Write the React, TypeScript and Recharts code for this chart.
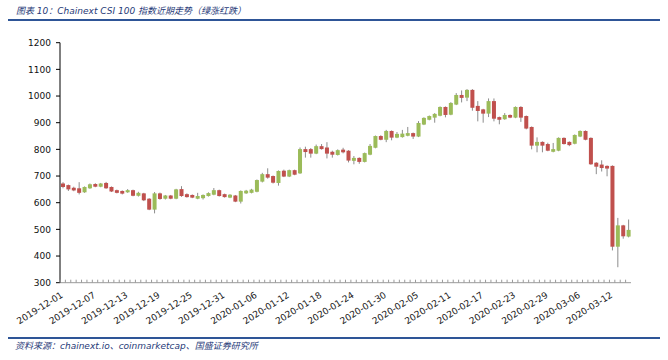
import React from "react";
import { ComposedChart, Bar, XAxis, YAxis } from "recharts";

// daily candles, 2019-12-01 .. 2020-03-15
const dates = [
  "2019-12-01", "2019-12-02", "2019-12-03", "2019-12-04", "2019-12-05", "2019-12-06", "2019-12-07", "2019-12-08",
  "2019-12-09", "2019-12-10", "2019-12-11", "2019-12-12", "2019-12-13", "2019-12-14", "2019-12-15", "2019-12-16",
  "2019-12-17", "2019-12-18", "2019-12-19", "2019-12-20", "2019-12-21", "2019-12-22", "2019-12-23", "2019-12-24",
  "2019-12-25", "2019-12-26", "2019-12-27", "2019-12-28", "2019-12-29", "2019-12-30", "2019-12-31",
  "2020-01-01", "2020-01-02", "2020-01-03", "2020-01-04", "2020-01-05", "2020-01-06", "2020-01-07", "2020-01-08",
  "2020-01-09", "2020-01-10", "2020-01-11", "2020-01-12", "2020-01-13", "2020-01-14", "2020-01-15", "2020-01-16",
  "2020-01-17", "2020-01-18", "2020-01-19", "2020-01-20", "2020-01-21", "2020-01-22", "2020-01-23", "2020-01-24",
  "2020-01-25", "2020-01-26", "2020-01-27", "2020-01-28", "2020-01-29", "2020-01-30", "2020-01-31",
  "2020-02-01", "2020-02-02", "2020-02-03", "2020-02-04", "2020-02-05", "2020-02-06", "2020-02-07", "2020-02-08",
  "2020-02-09", "2020-02-10", "2020-02-11", "2020-02-12", "2020-02-13", "2020-02-14", "2020-02-15", "2020-02-16",
  "2020-02-17", "2020-02-18", "2020-02-19", "2020-02-20", "2020-02-21", "2020-02-22", "2020-02-23", "2020-02-24",
  "2020-02-25", "2020-02-26", "2020-02-27", "2020-02-28", "2020-02-29",
  "2020-03-01", "2020-03-02", "2020-03-03", "2020-03-04", "2020-03-05", "2020-03-06", "2020-03-07", "2020-03-08",
  "2020-03-09", "2020-03-10", "2020-03-11", "2020-03-12", "2020-03-13", "2020-03-14", "2020-03-15",
];

const opens = [
  672, 666, 656, 654, 639, 654, 670, 660, 674, 659, 647, 644, 639, 647, 626, 635, 615, 574, 635, 615,
  627, 615, 651, 632, 629, 615, 617, 625, 630, 647, 632, 619, 627, 604, 635, 637, 641, 679, 707, 700,
  674, 720, 698, 722, 710, 801, 801, 784, 812, 807, 791, 779, 799, 795, 757, 768, 753, 780, 806, 850,
  836, 869, 844, 846, 851, 861, 848, 893, 911, 919, 926, 959, 930, 968, 1004, 994, 1023, 963, 950, 934,
  981, 921, 913, 929, 919, 959, 925, 884, 814, 828, 820, 791, 795, 843, 828, 821, 848, 869, 843, 750,
  743, 738, 738, 435, 515, 473,
];
const closes = [
  659, 650, 646, 637, 659, 669, 660, 672, 654, 642, 637, 634, 647, 626, 637, 609, 574, 635, 614, 627,
  615, 650, 625, 621, 619, 625, 629, 636, 647, 625, 621, 630, 604, 644, 645, 649, 685, 707, 694, 675,
  719, 698, 722, 705, 801, 790, 784, 812, 801, 784, 780, 797, 789, 758, 768, 753, 786, 813, 850, 836,
  869, 844, 858, 859, 861, 848, 899, 918, 925, 933, 959, 929, 974, 1004, 993, 1023, 956, 944, 934, 981,
  915, 911, 929, 919, 959, 919, 878, 814, 828, 814, 795, 801, 843, 820, 816, 854, 869, 836, 744, 735,
  730, 728, 435, 515, 474, 498,
];
const highs = [
  677, 668, 660, 677, 661, 672, 673, 674, 678, 661, 649, 646, 651, 649, 641, 637, 617, 640, 638, 629,
  629, 652, 662, 635, 631, 637, 631, 639, 655, 649, 634, 632, 629, 646, 648, 652, 687, 712, 729, 702,
  721, 724, 724, 724, 807, 810, 805, 818, 820, 827, 795, 800, 806, 797, 775, 770, 788, 820, 852, 853,
  873, 871, 865, 873, 884, 863, 906, 920, 927, 936, 961, 961, 977, 1011, 1021, 1026, 1026, 981, 952, 991,
  991, 923, 936, 931, 961, 962, 927, 886, 845, 830, 825, 824, 845, 845, 830, 856, 871, 871, 845, 752,
  759, 740, 740, 543, 517, 537,
];
const lows = [
  654, 644, 643, 631, 637, 652, 658, 658, 652, 640, 635, 631, 637, 624, 623, 606, 572, 560, 611, 612,
  613, 613, 622, 619, 617, 613, 612, 623, 628, 623, 619, 617, 602, 597, 633, 635, 639, 676, 690, 672,
  664, 696, 696, 703, 708, 769, 769, 782, 799, 766, 769, 777, 785, 751, 744, 746, 751, 778, 804, 834,
  827, 834, 842, 844, 849, 839, 846, 891, 909, 900, 924, 920, 928, 966, 976, 981, 945, 905, 900, 921,
  905, 894, 911, 917, 917, 903, 875, 800, 789, 789, 793, 789, 793, 818, 812, 819, 846, 834, 742, 707,
  717, 699, 421, 358, 465, 470,
];

const yTicks = [300, 400, 500, 600, 700, 800, 900, 1000, 1100, 1200];

const UP = "#9BBB59";
const DOWN = "#C0504D";
const NAVY = "#1F3A78";

const data = dates.map((date, i) => ({
  date,
  open: opens[i],
  close: closes[i],
  high: highs[i],
  low: lows[i],
  range: [lows[i], highs[i]],
}));

function Candle(props: any) {
  const { x, y, width, height, payload } = props;
  const { open, close, high, low } = payload;
  const top = Math.min(y, y + height);
  const h = Math.abs(height);
  const k = h / (high - low || 1);
  const toY = (v: number) => top + (high - v) * k;
  const cx = x + width / 2;
  const bodyTop = toY(Math.max(open, close));
  const bodyBot = toY(Math.min(open, close));
  return (
    <g>
      <line x1={cx} x2={cx} y1={top} y2={top + h} stroke="#8c8c8c" strokeWidth={1} />
      <rect
        x={x}
        y={bodyTop}
        width={width}
        height={Math.max(bodyBot - bodyTop, 1)}
        fill={close >= open ? UP : DOWN}
      />
    </g>
  );
}

function DateTick(props: any) {
  const { x, y, payload } = props;
  const index = props.index ?? payload.index;
  const tx = x + 1;
  const ty = y + 14;
  return (
    <g>
      <line x1={x - 2.7} x2={x - 2.7} y1={y} y2={y - 3} stroke="#9a9a9a" strokeWidth={1} />
      {index % 6 === 0 && (
        <text
          x={tx}
          y={ty}
          textAnchor="end"
          fontSize={9}
          fontFamily="DejaVu Sans"
          fill="#222"
          transform={`rotate(-32, ${tx}, ${ty})`}
        >
          {payload.value}
        </text>
      )}
    </g>
  );
}

const textFont = '"DejaVu Sans", "Noto Sans CJK SC", sans-serif';

export default function App() {
  return (
    <div style={{ position: "absolute", left: 0, top: 0, width: 668, height: 360, background: "#fff" }}>
      <div
        style={{
          position: "absolute",
          left: 16,
          top: 4,
          fontSize: 9,
          fontStyle: "italic",
          fontFamily: textFont,
          color: NAVY,
          whiteSpace: "nowrap",
        }}
      >
        图表 10：Chainext CSI 100 指数近期走势（绿涨红跌）
      </div>
      <div style={{ position: "absolute", left: 8, top: 19, width: 652, height: 1.5, background: "#2E5597" }} />

      <div style={{ position: "absolute", left: 0, top: 0 }}>
        <ComposedChart
          width={668}
          height={340}
          data={data}
          margin={{ top: 42.7, right: 37, left: 10, bottom: 7.3 }}
          barSize={4}
        >
          <XAxis
            dataKey="date"
            interval={0}
            tickLine={false}
            tickSize={0}
            tickMargin={0}
            height={50}
            stroke="#9a9a9a"
            tick={<DateTick />}
          />
          <YAxis
            domain={[300, 1200]}
            ticks={yTicks}
            width={50}
            stroke="#000"
            tickSize={4}
            tickMargin={5}
            tick={{ fontSize: 9, fontFamily: "DejaVu Sans", fill: "#111" }}
            allowDataOverflow
          />
          <Bar dataKey="range" shape={<Candle />} isAnimationActive={false} />
        </ComposedChart>
      </div>

      <div style={{ position: "absolute", left: 8, top: 337, width: 652, height: 1.5, background: "#2E5597" }} />
      <div
        style={{
          position: "absolute",
          left: 15,
          top: 339,
          fontSize: 9,
          fontStyle: "italic",
          fontFamily: textFont,
          color: NAVY,
          whiteSpace: "nowrap",
        }}
      >
        资料来源：chainext.io、coinmarketcap、国盛证券研究所
      </div>
    </div>
  );
}
